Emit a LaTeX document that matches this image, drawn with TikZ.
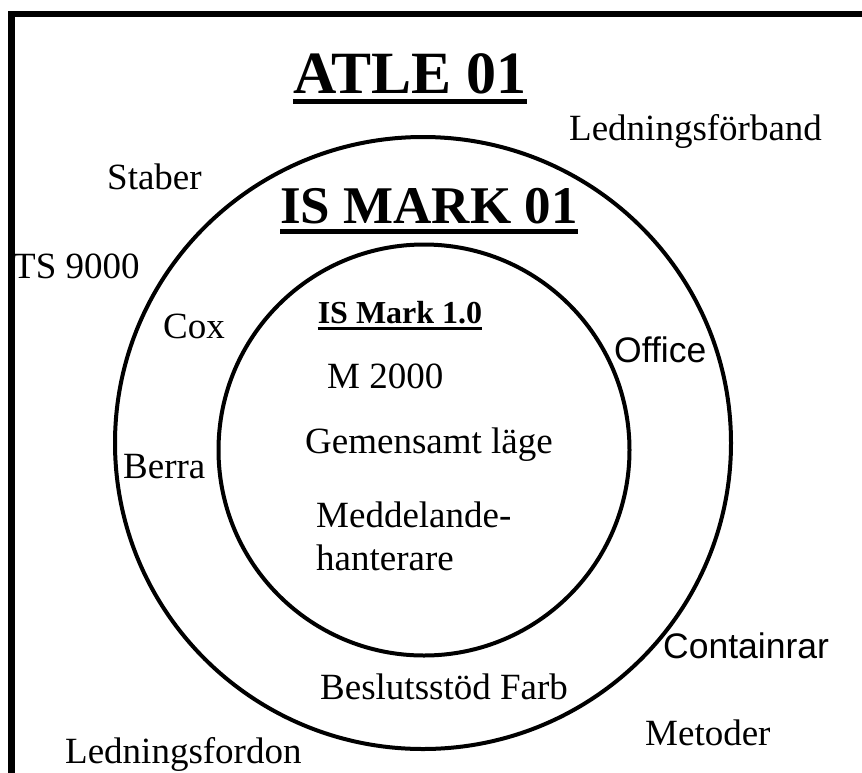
\documentclass[tikz,border=0pt]{standalone}
\usepackage{fontspec}
\usetikzlibrary{shapes.geometric}
\setmainfont{Liberation Serif}
\newfontfamily\arialf{Liberation Sans}
\begin{document}
\begin{tikzpicture}[x=1pt,y=-1pt,
  lbl/.style={inner sep=0pt,anchor=base west,font=\fontsize{37}{44}\selectfont},
  sanslbl/.style={inner sep=0pt,anchor=base west,font=\arialf\fontsize{35.5}{42}\selectfont},
  ring/.style={draw=black,line width=4pt}]
\useasboundingbox (0,0) rectangle (862,772);
% frame
\draw[line width=6.5pt] (11.5,780) -- (11.5,14) -- (870,14);
% circles
\node[ring,ellipse,minimum width=616pt,minimum height=612pt,inner sep=0pt] (outer) at (423,443) {};
\node[ring,circle,minimum size=411pt,inner sep=0pt] (inner) at (424,450) {};
% titles
\node[inner sep=0pt,anchor=base,font=\bfseries\fontsize{60}{70}\selectfont] (atle) at (410,93) {ATLE 01};
\draw[line width=5pt] ([yshift=-8pt]atle.base west) -- ([yshift=-8pt]atle.base east);
\node[inner sep=0pt,anchor=base,font=\bfseries\fontsize{53}{62}\selectfont] (ismark) at (429,223) {IS MARK 01};
\draw[line width=5pt] ([yshift=-8pt]ismark.base west) -- ([yshift=-8pt]ismark.base east);
\node[inner sep=0pt,anchor=base,font=\bfseries\fontsize{32}{38}\selectfont] (ismark10) at (400,323) {IS Mark 1.0};
\draw[line width=3pt] ([yshift=-5.5pt]ismark10.base west) -- ([yshift=-5.5pt]ismark10.base east);
% labels
\node[lbl] (lf) at (569,140) {Ledningsförband};
\node[lbl] (staber) at (107,189) {Staber};
\node[lbl] (ts) at (13,278) {TS 9000};
\node[lbl] (cox) at (163,338) {Cox};
\node[lbl] (m2000) at (327,388) {M 2000};
\node[sanslbl] (office) at (614,362) {Office};
\node[lbl] (gem) at (305,453) {Gemensamt läge};
\node[lbl] (berra) at (123,478) {Berra};
\node[lbl] (medd) at (316,527) {Meddelande-};
\node[lbl] (hant) at (316,570) {hanterare};
\node[sanslbl] (cont) at (663,658) {Containrar};
\node[lbl] (beslut) at (320,699) {Beslutsstöd Farb};
\node[lbl] (metoder) at (645,745) {Metoder};
\node[lbl] (lfordon) at (65,763) {Ledningsfordon};
\end{tikzpicture}
\end{document}
